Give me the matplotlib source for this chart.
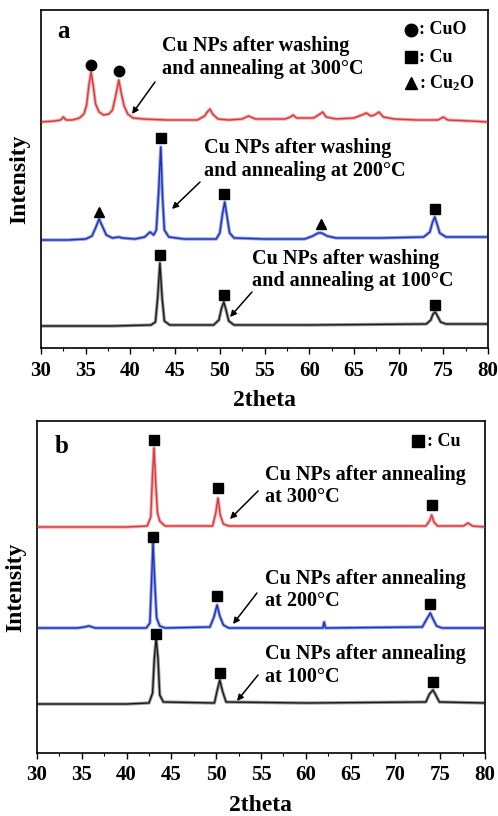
import matplotlib
matplotlib.use("Agg")
import matplotlib.pyplot as plt
from matplotlib.ticker import MultipleLocator

plt.rcParams['font.family'] = ['Liberation Serif', 'DejaVu Serif']
plt.rcParams['font.weight'] = 'bold'
plt.rcParams['mathtext.fontset'] = 'custom'
plt.rcParams['mathtext.rm'] = 'Liberation Serif:bold'
plt.rcParams['mathtext.bf'] = 'Liberation Serif:bold'
plt.rcParams['mathtext.it'] = 'Liberation Serif:bold'

# ---------------- Panel a data (2theta, intensity a.u.) ----------------
a_red_x = [30, 31.5, 32.2, 32.5, 32.8, 33.5, 34.3, 34.8, 35.1, 35.35, 35.6, 35.85, 36.1, 36.5, 37.0,
           37.6, 38.0, 38.35, 38.7, 39.0, 39.3, 39.7, 40.3, 41.5, 44.0, 47.5, 48.3, 48.6, 48.9, 49.2,
           49.8, 51.0, 52.5, 53.2, 54.0, 57.3, 57.9, 58.2, 58.6, 60.5, 61.2, 61.5, 61.9, 63.0, 65.0,
           65.9, 66.4, 66.9, 67.3, 67.8, 68.3, 69.5, 72.0, 74.4, 75.0, 75.5, 78.0, 80.0]
a_red_y = [226, 227, 228, 231, 228, 228, 230, 234, 243, 262, 276, 262, 244, 236, 233,
           234, 238, 252, 268, 254, 242, 234, 230, 229, 228, 228, 232, 236, 239, 234,
           229, 228, 229, 232, 229, 229, 231, 233, 230, 230, 234, 236, 231, 229, 230,
           233, 235, 232, 233, 236, 231, 229, 228, 228, 231, 228, 227, 226]

a_blue_x = [30, 33.0, 35.0, 35.7, 36.1, 36.5, 36.9, 37.3, 38.0, 38.7, 39.1, 40.5, 41.6, 42.2, 42.6,
            42.9, 43.15, 43.4, 43.6, 43.8, 44.3, 46.0, 49.6, 50.0, 50.3, 50.55, 50.8, 51.1, 51.6,
            55.0, 59.5, 60.4, 61.0, 61.4, 62.0, 63.0, 68.0, 72.8, 73.5, 73.8, 74.05, 74.3, 74.6,
            75.3, 78.0, 80.0]
a_blue_y = [108, 108, 109, 112, 120, 129, 121, 113, 110, 111, 110, 109, 111, 116, 113,
            118, 155, 201, 150, 118, 111, 109, 109, 115, 134, 146, 132, 115, 110,
            109, 109, 112, 115, 115, 112, 110, 110, 111, 116, 126, 131, 124, 115,
            111, 111, 111]

a_black_x = [30, 38.0, 42.3, 42.8, 43.05, 43.3, 43.55, 43.8, 44.4, 49.3, 49.9, 50.2, 50.45, 50.7,
             51.0, 51.6, 60.0, 73.1, 73.6, 73.85, 74.1, 74.35, 74.7, 75.3, 80.0]
a_black_y = [22, 22, 23, 26, 50, 85, 50, 27, 23, 23, 28, 40, 46, 38,
             27, 23, 23, 24, 28, 34, 36, 32, 26, 24, 24]

a_cuo_x = [35.6, 38.7]
a_cuo_y = [283, 277]
a_cu_x = [43.4, 50.5, 74.1, 43.3, 50.5, 74.1]
a_cu_y = [210, 154, 139, 93, 53, 43]
a_cu2o_x = [36.5, 61.3]
a_cu2o_y = [136, 124]

# ---------------- Panel b data ----------------
b_red_x = [30, 40.0, 42.3, 42.7, 42.9, 43.06, 43.25, 43.45, 43.7, 44.3, 49.6, 49.95, 50.2, 50.45,
           50.8, 51.4, 73.4, 73.8, 74.05, 74.3, 74.7, 77.6, 78.1, 78.6, 80.0]
b_red_y = [226, 226, 227, 236, 280, 305, 270, 240, 232, 227, 227, 240, 255, 238,
           229, 227, 227, 232, 238, 231, 227, 227, 230, 227, 226]

b_blue_x = [30, 34.5, 35.3, 35.8, 36.5, 42.2, 42.6, 42.8, 42.95, 43.15, 43.35, 43.7, 44.3, 49.3,
            49.75, 50.1, 50.4, 50.8, 51.4, 61.9, 62.05, 62.2, 73.0, 73.5, 73.9, 74.2, 74.6, 75.2, 80.0]
b_blue_y = [125, 125, 126, 127, 125, 125, 130, 175, 210, 170, 135, 127, 125, 126,
            136, 148, 137, 128, 125, 125, 131, 125, 126, 134, 140, 134, 127, 125, 125]

b_black_x = [30, 40.0, 42.5, 42.9, 43.1, 43.3, 43.5, 43.7, 44.1, 49.8, 50.1, 50.4, 50.7, 51.1,
             60.0, 73.4, 73.8, 74.2, 74.5, 74.9, 80.0]
b_black_y = [49, 49, 50, 60, 95, 115, 95, 58, 51, 50, 62, 73, 62, 51,
             50, 51, 59, 63, 58, 51, 50]

b_cu_x = [43.06, 50.2, 74.1, 43.0, 50.1, 73.9, 43.3, 50.4, 74.2]
b_cu_y = [313, 265, 248, 216, 157, 149, 119, 80, 71]

x_ticks = [30, 35, 40, 45, 50, 55, 60, 65, 70, 75, 80]

# ---------------- Figure ----------------
fig = plt.figure(figsize=(4.98, 8.16), dpi=100)
ax1 = fig.add_axes([41/498, 1 - 348/816, 447/498, 338/816])
ax2 = fig.add_axes([37/498, 1 - 753/816, 448/498, 332/816])

RED = '#d8383e'
RED_L = '#f3a8a8'
BLUE = '#1f32b0'
BLUE_L = '#90a0ec'
BLK = '#1a1a1a'


def trace(ax, x, y, c, cl):
    ax.plot(x, y, color=cl, lw=2.4, solid_joinstyle='round', zorder=2)
    ax.plot(x, y, color=c, lw=1.0, solid_joinstyle='round', zorder=3)


for ax, ylim in ((ax1, 338), (ax2, 332)):
    ax.set_xlim(30, 80)
    ax.set_ylim(0, ylim)
    ax.set_yticks([])
    ax.set_xticks(x_ticks)
    ax.xaxis.set_minor_locator(MultipleLocator(2.5))
    ax.tick_params(axis='x', which='major', direction='out', length=4, width=1.0,
                   labelsize=15, pad=5)
    ax.tick_params(axis='x', which='minor', direction='out', length=2.5, width=0.8)
    for lab in ax.get_xticklabels():
        lab.set_fontweight('bold')
    for s in ax.spines.values():
        s.set_linewidth(1.2)
    ax.set_xlabel('2theta', fontsize=17, fontweight='bold', labelpad=7)
    ax.set_ylabel('Intensity', fontsize=17, fontweight='bold', labelpad=8)

# panel a traces
trace(ax1, a_red_x, a_red_y, RED, RED_L)
trace(ax1, a_blue_x, a_blue_y, BLUE, BLUE_L)
trace(ax1, a_black_x, a_black_y, BLK, '#9a9a9a')

ax1.plot(a_cuo_x, a_cuo_y, 'o', color='black', ms=7.5, zorder=4)
ax1.plot(a_cu_x, a_cu_y, 's', color='black', ms=7, zorder=4)
ax1.plot(a_cu2o_x, a_cu2o_y, '^', color='black', ms=7.5, zorder=4)

ax1.text(31.8, 310, 'a', fontsize=18, fontweight='bold', va='baseline')
ax1.plot([71.4], [318], 'o', color='black', ms=9)
ax1.plot([71.4], [291], 's', color='black', ms=9)
ax1.plot([71.4], [265], '^', color='black', ms=9)
ax1.text(72.3, 318, ': CuO', fontsize=13, fontweight='bold', va='center')
ax1.text(72.3, 291, ': Cu', fontsize=13, fontweight='bold', va='center')
ax1.text(72.3, 265, r': Cu$_2$O', fontsize=13, fontweight='bold', va='center')

ax1.text(43.5, 290.5, 'Cu NPs after washing\nand annealing at 300°C', fontsize=14.5,
         fontweight='bold', va='center', ha='left', linespacing=1.15)
ax1.text(48.2, 188.5, 'Cu NPs after washing\nand annealing at 200°C', fontsize=14.5,
         fontweight='bold', va='center', ha='left', linespacing=1.15)
ax1.text(53.6, 78, 'Cu NPs after washing\nand annealing at 100°C', fontsize=14.5,
         fontweight='bold', va='center', ha='left', linespacing=1.15)

arrow = dict(arrowstyle='-|>', color='black', lw=1.1, mutation_scale=9, shrinkA=0, shrinkB=0)
ax1.annotate('', xy=(40.18, 234), xytext=(42.75, 266), arrowprops=arrow)
ax1.annotate('', xy=(44.65, 139), xytext=(47.79, 166), arrowprops=arrow)
ax1.annotate('', xy=(51.14, 31), xytext=(53.6, 56), arrowprops=arrow)

# panel b traces
trace(ax2, b_red_x, b_red_y, RED, RED_L)
trace(ax2, b_blue_x, b_blue_y, BLUE, BLUE_L)
trace(ax2, b_black_x, b_black_y, BLK, '#9a9a9a')

ax2.plot(b_cu_x, b_cu_y, 's', color='black', ms=7, zorder=4)
ax2.text(32.0, 300, 'b', fontsize=18, fontweight='bold', va='baseline')
ax2.plot([72.5], [312], 's', color='black', ms=9)
ax2.text(73.5, 312, ': Cu', fontsize=13, fontweight='bold', va='center')

ax2.text(55.45, 267, 'Cu NPs after annealing\nat 300°C', fontsize=14.5,
         fontweight='bold', va='center', ha='left', linespacing=1.15)
ax2.text(55.45, 163, 'Cu NPs after annealing\nat 200°C', fontsize=14.5,
         fontweight='bold', va='center', ha='left', linespacing=1.15)
ax2.text(55.45, 87.5, 'Cu NPs after annealing\nat 100°C', fontsize=14.5,
         fontweight='bold', va='center', ha='left', linespacing=1.15)

ax2.annotate('', xy=(51.54, 234), xytext=(54.67, 262), arrowprops=arrow)
ax2.annotate('', xy=(51.88, 129), xytext=(54.55, 160), arrowprops=arrow)
ax2.annotate('', xy=(52.32, 52), xytext=(54.67, 78), arrowprops=arrow)

fig.savefig('out.png', dpi=100)
